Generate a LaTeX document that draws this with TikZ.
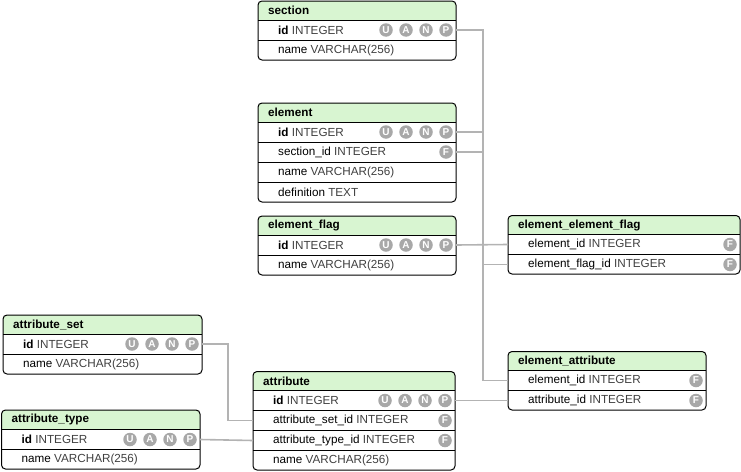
\documentclass[tikz,border=0pt]{standalone}
\usepackage{fontspec}
\setmainfont{Liberation Sans}
\definecolor{hdrfill}{HTML}{D8F5D1}
\definecolor{typegray}{HTML}{404040}
\definecolor{icongray}{HTML}{A8A8A8}
\definecolor{conngray}{HTML}{B3B3B3}
\tikzset{
  hdrtext/.style={anchor=west,inner sep=0pt,font=\fontsize{11.7}{14}\selectfont\bfseries},
  rowtext/.style={anchor=west,inner sep=0pt,font=\fontsize{11.7}{14}\selectfont},
  icon/.style={circle,fill=icongray,minimum size=13.5pt,inner sep=0pt,text=white,font=\fontsize{10}{10}\selectfont\bfseries},
  sepline/.style={line width=0.9pt,black},
  frameline/.style={line width=1pt,black,rounded corners=4pt},
  conn/.style={line width=1.6pt,conngray}
}
% table header: id, x, top, w, bottom, title
\newcommand\dbhead[6]{%
  \begin{scope}
    \clip[rounded corners=4pt] (#2,#3) rectangle ({#2+#4},#5);
    \fill[hdrfill] (#2,#3) rectangle ({#2+#4},{#3+19});
  \end{scope}
  \node[hdrtext] (#1) at ({#2+10},{#3+9.5}) {#6};
}
\newcommand\dbframe[4]{% x, top, w, bottom
  \draw[frameline] (#1,#2) rectangle ({#1+#3},#4);
}
% row: id, x, rowtop, w, text
\newcommand\dbrow[5]{%
  \draw[sepline] (#2,#3) -- ({#2+#4},#3);
  \node[rowtext] (#1) at ({#2+20},{#3+10}) {#5};
  \coordinate (#1-l) at (#2,{#3+10});
  \coordinate (#1-r) at ({#2+#4},{#3+10});
}
\newcommand\uanp[4]{% id, x, rowtop, w
  \node[icon] (#1-P) at ({#2+#4-10},{#3+10}) {P};
  \node[icon] (#1-N) at ({#2+#4-30},{#3+10}) {N};
  \node[icon] (#1-A) at ({#2+#4-50},{#3+10}) {A};
  \node[icon] (#1-U) at ({#2+#4-70},{#3+10}) {U};
}
\newcommand\fkicon[4]{%
  \node[icon] (#1-F) at ({#2+#4-10},{#3+10}) {F};
}
\newcommand\idtxt{\textbf{id} \textcolor{typegray}{INTEGER}}
\newcommand\ty[1]{\textcolor{typegray}{#1}}
\begin{document}
\begin{tikzpicture}[x=1pt,y=-1pt]
\useasboundingbox (0,0) rectangle (741,471);

% ---------- section ----------
\dbhead{section}{258}{1}{198}{60}{section}
\dbrow{section-id}{258}{20}{198}{\idtxt}
\uanp{section-id}{258}{20}{198}
\dbrow{section-name}{258}{40}{198}{name \ty{VARCHAR(256)}}
\dbframe{258}{1}{198}{60}

% ---------- element ----------
\dbhead{element}{258}{103}{198}{202}{element}
\dbrow{element-id}{258}{122}{198}{\idtxt}
\uanp{element-id}{258}{122}{198}
\dbrow{element-sid}{258}{142}{198}{section\_id \ty{INTEGER}}
\fkicon{element-sid}{258}{142}{198}
\dbrow{element-name}{258}{162}{198}{name \ty{VARCHAR(256)}}
\dbrow{element-def}{258}{182}{198}{definition \ty{TEXT}}
\dbframe{258}{103}{198}{202}

% ---------- element_flag ----------
\dbhead{ef}{258}{216}{198}{275}{element\_flag}
\dbrow{ef-id}{258}{235}{198}{\idtxt}
\uanp{ef-id}{258}{235}{198}
\dbrow{ef-name}{258}{255}{198}{name \ty{VARCHAR(256)}}
\dbframe{258}{216}{198}{275}

% ---------- element_element_flag ----------
\dbhead{eef}{508}{215.5}{232}{274}{element\_element\_flag}
\dbrow{eef-eid}{508}{234.5}{232}{element\_id \ty{INTEGER}}
\fkicon{eef-eid}{508}{234.5}{232}
\dbrow{eef-fid}{508}{254.5}{232}{element\_flag\_id \ty{INTEGER}}
\fkicon{eef-fid}{508}{254.5}{232}
\dbframe{508}{215.5}{232}{274}

% ---------- element_attribute ----------
\dbhead{ea}{508}{351.5}{198}{410}{element\_attribute}
\dbrow{ea-eid}{508}{370.5}{198}{element\_id \ty{INTEGER}}
\fkicon{ea-eid}{508}{370.5}{198}
\dbrow{ea-aid}{508}{390.5}{198}{attribute\_id \ty{INTEGER}}
\fkicon{ea-aid}{508}{390.5}{198}
\dbframe{508}{351.5}{198}{410}

% ---------- attribute ----------
\dbhead{attr}{253}{371.5}{202}{470}{attribute}
\dbrow{attr-id}{253}{390.5}{202}{\idtxt}
\uanp{attr-id}{253}{390.5}{202}
\dbrow{attr-asid}{253}{410.5}{202}{attribute\_set\_id \ty{INTEGER}}
\fkicon{attr-asid}{253}{410.5}{202}
\dbrow{attr-atid}{253}{430.5}{202}{attribute\_type\_id \ty{INTEGER}}
\fkicon{attr-atid}{253}{430.5}{202}
\dbrow{attr-name}{253}{450.5}{202}{name \ty{VARCHAR(256)}}
\dbframe{253}{371.5}{202}{470}

% ---------- attribute_set ----------
\dbhead{as}{3}{315}{199}{374}{attribute\_set}
\dbrow{as-id}{3}{334}{199}{\idtxt}
\uanp{as-id}{3}{334}{199}
\dbrow{as-name}{3}{354}{199}{name \ty{VARCHAR(256)}}
\dbframe{3}{315}{199}{374}

% ---------- attribute_type ----------
\dbhead{at}{1.5}{410}{198.5}{469}{attribute\_type}
\dbrow{at-id}{1.5}{429.5}{198.5}{\idtxt}
\uanp{at-id}{1.5}{429.5}{198.5}
\dbrow{at-name}{1.5}{449.5}{198.5}{name \ty{VARCHAR(256)}}
\dbframe{1.5}{410}{198.5}{469}

% ---------- connectors ----------
\draw[conn] (section-id-r) -| (483,152) -- (element-sid-r);
\draw[conn] (element-id-r) -| (483,264.5) -- (eef-fid-l);
\draw[conn] (element-id-r) -| (483,380.5) -- (ea-eid-l);
\draw[conn] (ef-id-r) -- (eef-eid-l);
\draw[conn] (attr-id-r) -- (ea-aid-l);
\draw[conn] (as-id-r) -| (228,420.5) -- (attr-asid-l);
\draw[conn] (at-id-r) -- (attr-atid-l);
\end{tikzpicture}
\end{document}
